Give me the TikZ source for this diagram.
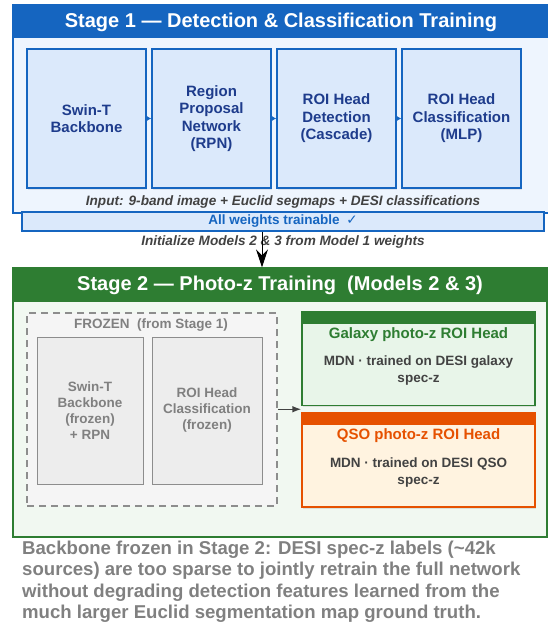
\documentclass[tikz,border=0pt]{standalone}
\usepackage{fontspec}
\setmainfont{Liberation Sans}
\newfontfamily\checkfont{DejaVu Sans}
\usetikzlibrary{arrows.meta,calc,shadows}
\definecolor{StageBlue}{RGB}{21,101,192}
\definecolor{StageBlueLight}{RGB}{238,245,254}
\definecolor{BoxBlue}{RGB}{219,233,251}
\definecolor{BoxBlueText}{RGB}{30,60,140}
\definecolor{StageGreen}{RGB}{46,125,50}
\definecolor{StageGreenLight}{RGB}{241,248,241}
\definecolor{HeadGreen}{RGB}{232,245,233}
\definecolor{QsoOrange}{RGB}{230,81,0}
\definecolor{QsoLight}{RGB}{255,243,224}
\definecolor{FrozenGray}{RGB}{128,128,128}
\definecolor{TextDark}{RGB}{66,66,66}

\begin{document}
\begin{tikzpicture}[x=1pt,y=-1pt,>=Latex,
  stagebox/.style={draw=#1,line width=1.2pt,inner sep=0pt},
  stagehead/.style={fill=#1,inner sep=0pt,text=white,
    font=\bfseries\fontsize{20}{24}\selectfont},
  netbox/.style={draw=StageBlue,fill=BoxBlue,line width=1.5pt,inner sep=2pt,
    minimum width=119pt,minimum height=139pt,align=center,text=BoxBlueText,
    font=\bfseries\fontsize{15}{17.5}\selectfont,
    drop shadow={opacity=0.15,shadow xshift=1pt,shadow yshift=-1.5pt}},
  frozenbox/.style={draw=FrozenGray!90,fill=black!7,line width=0.9pt,
    minimum height=147pt,align=center,text=FrozenGray,
    font=\bfseries\fontsize{13.5}{16}\selectfont},
  headbox/.style={draw=#1,line width=1.6pt,minimum width=233pt,minimum height=94pt,
    drop shadow={opacity=0.2,shadow xshift=1pt,shadow yshift=-1.5pt},
    path picture={\fill[#1] (path picture bounding box.north west)
      rectangle ([yshift=-12pt]path picture bounding box.north east);}},
  headtitle/.style={font=\bfseries\fontsize{15}{18}\selectfont},
  headbody/.style={align=center,text=TextDark,font=\bfseries\fontsize{13.5}{17}\selectfont},
  notetext/.style={text=TextDark,font=\bfseries\itshape\fontsize{13.6}{16}\selectfont}]
  \useasboundingbox (0,0) rectangle (547,623);

  % Stage 1
  \node[stagebox=StageBlue,fill=StageBlueLight,minimum width=536pt,minimum height=208pt]
    (stageone) at (281,109) {};
  \node[stagehead=StageBlue,minimum width=534.8pt,minimum height=33pt]
    (stageonehead) at (281,22) {Stage 1 — Detection \& Classification Training};
  \node[netbox] (swin) at (86.5,118.5) {Swin-T\\Backbone};
  \node[netbox] (rpn) at (211.5,118.5) {Region\\Proposal\\Network\\(RPN)};
  \node[netbox] (roidet) at (336.5,118.5) {ROI Head\\Detection\\(Cascade)};
  \node[netbox] (roicls) at (461.5,118.5) {ROI Head\\Classification\\(MLP)};
  \foreach \a/\b in {swin/rpn,rpn/roidet,roidet/roicls}
    \draw[-{Latex[length=5pt,width=6pt]},StageBlue,line width=1pt] (\a) -- (\b);
  \node[notetext] (inputnote) at (283,202)
    {Input: 9-band image + Euclid segmaps + DESI classifications};
  \node[draw=StageBlue,fill=BoxBlue,line width=1.2pt,minimum width=522pt,minimum height=19pt,
    inner sep=0pt,text=StageBlue,font=\bfseries\fontsize{13.5}{16}\selectfont]
    (trainable) at (283,221.5) {All weights trainable\enspace{\checkfont ✓}};

  % transfer to stage 2
  \node[notetext] (initnote) at (283,242) {Initialize Models 2 \& 3 from Model 1 weights};

  % Stage 2
  \node[stagebox=StageGreen,fill=StageGreenLight,minimum width=534pt,minimum height=269pt]
    (stagetwo) at (280,402.5) {};
  \node[stagehead=StageGreen,minimum width=532.8pt,minimum height=33pt]
    (stagetwohead) at (280,285) {Stage 2 — Photo-z Training\ \ (Models 2 \& 3)};
  \draw[-{Stealth[length=18pt,width=12pt,inset=6pt]},line width=1pt,black]
    (trainable.south -| 262,0) -- (stagetwo.north -| 262,0);
  \node[draw=FrozenGray!90,dashed,dash pattern=on 7pt off 5pt,line width=1.6pt,fill=black!4,
    minimum width=250pt,minimum height=193pt] (frozen) at (152,409.5) {};
  \node[text=FrozenGray,font=\bfseries\fontsize{13.5}{16}\selectfont]
    (frozenlabel) at (151,325) {FROZEN\ \ (from Stage 1)};
  \node[frozenbox,minimum width=106pt] (frozenswin) at (90,410.5)
    {Swin-T\\Backbone\\(frozen)\\+ RPN};
  \node[frozenbox,minimum width=110pt] (frozencls) at (207,410.5)
    {ROI Head\\Classification\\(frozen)};

  \node[headbox=StageGreen,fill=HeadGreen] (galaxy) at (418.5,358.5) {};
  \node[headtitle,text=StageGreen] (galtitle) at ([yshift=-23.5pt]galaxy.north)
    {Galaxy photo-z ROI Head};
  \node[headbody] (galbody) at ([yshift=-60pt]galaxy.north)
    {MDN · trained on DESI galaxy\\spec-z};
  \node[headbox=QsoOrange,fill=QsoLight] (qso) at (418.5,460) {};
  \node[headtitle,text=QsoOrange] (qsotitle) at ([yshift=-23.5pt]qso.north)
    {QSO photo-z ROI Head};
  \node[headbody] (qsobody) at ([yshift=-60pt]qso.north)
    {MDN · trained on DESI QSO\\spec-z};
  \coordinate (headsin) at ($(galaxy.south west)!0.5!(qso.north west)$);
  \draw[->,line width=1.3pt,TextDark] (frozen.east |- headsin) -- (headsin);

  % caption
  \node[anchor=base west,align=left,inner sep=0pt,text=FrozenGray,
    font=\bfseries\fontsize{18.6}{21.3}\selectfont] (caption) at (22,618.5)
    {Backbone frozen in Stage 2: DESI spec-z labels (\textasciitilde 42k\\
     sources) are too sparse to jointly retrain the full network\\
     without degrading detection features learned from the\\
     much larger Euclid segmentation map ground truth.};
\end{tikzpicture}
\end{document}
